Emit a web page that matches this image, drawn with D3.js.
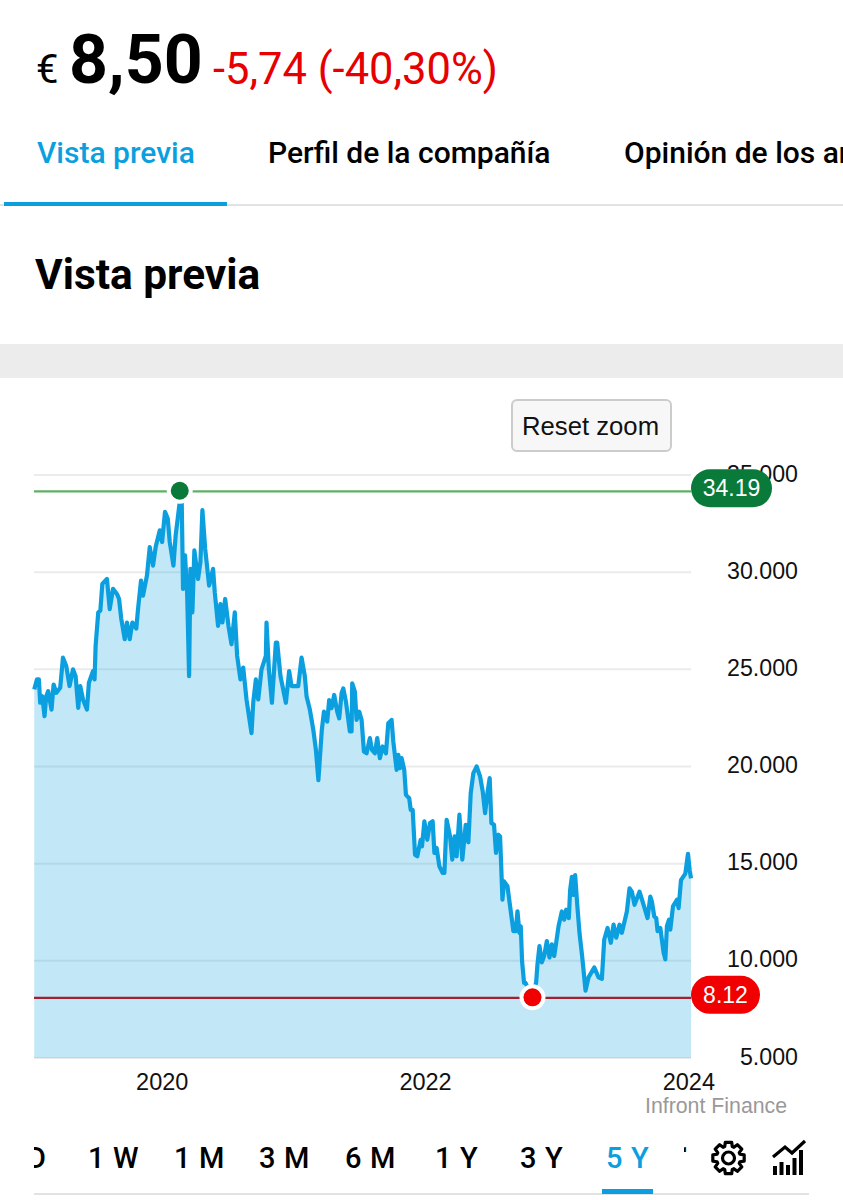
<!DOCTYPE html>
<html>
<head>
<meta charset="utf-8">
<style>
    body { margin: 0; background: #fff; }
    svg { display: block; }
    text { font-family: Roboto, sans-serif; }
    .chart-text text, text.chart-text { font-family: "Liberation Sans", Arial, sans-serif; }
</style>
<script src="https://cdnjs.cloudflare.com/ajax/libs/d3/7.8.5/d3.min.js"></script>
</head>
<body>
<svg id="page"></svg>
<script>
const width = 843;
const height = 1200;

const years = [
    2019.032, 2019.052, 2019.067, 2019.077, 2019.093, 2019.110, 2019.123, 2019.138, 2019.163, 2019.179,
    2019.199, 2019.229, 2019.250, 2019.275, 2019.300, 2019.326, 2019.346, 2019.366, 2019.381, 2019.402,
    2019.432, 2019.447, 2019.478, 2019.490, 2019.498, 2019.518, 2019.534, 2019.549, 2019.584, 2019.605,
    2019.630, 2019.660, 2019.676, 2019.693, 2019.719, 2019.736, 2019.757, 2019.777, 2019.807, 2019.820,
    2019.843, 2019.858, 2019.888, 2019.909, 2019.934, 2019.954, 2019.985, 2020.003, 2020.025, 2020.046,
    2020.061, 2020.089, 2020.106, 2020.137, 2020.145, 2020.152, 2020.162, 2020.177, 2020.193, 2020.208,
    2020.218, 2020.233, 2020.248, 2020.276, 2020.294, 2020.309, 2020.330, 2020.360, 2020.390, 2020.403,
    2020.428, 2020.446, 2020.461, 2020.482, 2020.507, 2020.530, 2020.555, 2020.573, 2020.598, 2020.619,
    2020.644, 2020.682, 2020.695, 2020.715, 2020.733, 2020.758, 2020.791, 2020.796, 2020.814, 2020.837,
    2020.867, 2020.877, 2020.902, 2020.943, 2020.968, 2020.986, 2021.037, 2021.062, 2021.087, 2021.100,
    2021.125, 2021.151, 2021.171, 2021.190, 2021.216, 2021.232, 2021.257, 2021.272, 2021.290, 2021.310,
    2021.333, 2021.348, 2021.366, 2021.379, 2021.399, 2021.429, 2021.442, 2021.447, 2021.467, 2021.480,
    2021.500, 2021.518, 2021.536, 2021.556, 2021.581, 2021.597, 2021.619, 2021.637, 2021.657, 2021.678,
    2021.703, 2021.721, 2021.746, 2021.759, 2021.784, 2021.797, 2021.809, 2021.822, 2021.842, 2021.855,
    2021.880, 2021.891, 2021.906, 2021.924, 2021.941, 2021.967, 2021.977, 2021.995, 2022.017, 2022.038,
    2022.058, 2022.071, 2022.088, 2022.109, 2022.134, 2022.147, 2022.164, 2022.190, 2022.207, 2022.225,
    2022.240, 2022.261, 2022.283, 2022.309, 2022.329, 2022.347, 2022.367, 2022.392, 2022.418, 2022.438,
    2022.456, 2022.474, 2022.491, 2022.504, 2022.524, 2022.539, 2022.557, 2022.570, 2022.588, 2022.600,
    2022.626, 2022.646, 2022.671, 2022.689, 2022.702, 2022.717, 2022.727, 2022.737, 2022.752, 2022.763,
    2022.780, 2022.800, 2022.816, 2022.844, 2022.854, 2022.869, 2022.887, 2022.905, 2022.925, 2022.945,
    2022.963, 2022.981, 2022.996, 2023.014, 2023.039, 2023.057, 2023.072, 2023.092, 2023.102, 2023.115,
    2023.128, 2023.140, 2023.158, 2023.173, 2023.193, 2023.219, 2023.242, 2023.285, 2023.318, 2023.343,
    2023.361, 2023.386, 2023.411, 2023.432, 2023.452, 2023.477, 2023.495, 2023.533, 2023.553, 2023.571,
    2023.591, 2023.629, 2023.660, 2023.690, 2023.711, 2023.723, 2023.741, 2023.756, 2023.766, 2023.787,
    2023.812, 2023.825, 2023.837, 2023.853, 2023.863, 2023.883, 2023.913, 2023.926, 2023.944, 2023.977,
    2023.997, 2024.010, 2024.020
];

const prices = [
    23.97, 24.48, 24.48, 23.28, 23.62, 22.59, 23.62, 23.88, 22.93, 24.22,
    23.79, 24.05, 25.60, 25.17, 24.14, 25.00, 24.65, 23.02, 24.14, 23.45,
    22.93, 24.31, 24.91, 24.48, 26.21, 27.93, 28.02, 29.40, 29.65, 28.10,
    29.14, 28.88, 28.62, 27.59, 26.55, 27.41, 26.55, 27.41, 27.10, 28.10,
    29.57, 28.79, 29.83, 31.29, 30.34, 31.29, 32.15, 31.55, 33.10, 32.76,
    31.55, 30.34, 31.90, 33.62, 34.19, 33.62, 29.14, 30.86, 28.96, 24.65,
    30.17, 27.93, 31.12, 29.65, 30.52, 33.19, 31.21, 29.31, 30.17, 28.96,
    27.24, 28.36, 27.41, 28.62, 27.24, 26.29, 27.93, 25.69, 24.48, 25.09,
    23.45, 21.72, 23.28, 24.48, 23.45, 25.00, 25.69, 27.41, 25.00, 23.28,
    26.38, 26.38, 24.65, 23.28, 24.91, 24.14, 24.14, 25.60, 24.65, 23.62,
    22.93, 21.90, 20.86, 19.30, 21.88, 22.82, 22.31, 23.42, 23.00, 23.68,
    22.82, 22.48, 23.77, 24.02, 23.34, 21.80, 21.80, 24.28, 23.85, 22.40,
    22.82, 22.40, 20.77, 20.68, 21.46, 20.86, 20.68, 21.46, 20.43, 21.03,
    20.68, 22.23, 22.40, 21.28, 19.83, 20.60, 19.91, 20.43, 19.83, 18.54,
    18.37, 17.77, 17.77, 15.46, 15.38, 16.23, 15.89, 17.18, 16.23, 17.09,
    17.18, 15.55, 15.81, 14.86, 14.52, 14.52, 17.26, 16.40, 15.21, 16.40,
    15.38, 17.52, 15.21, 17.00, 16.10, 18.63, 19.66, 20.00, 19.49, 18.72,
    17.60, 18.63, 19.40, 17.09, 17.00, 15.55, 16.49, 16.40, 13.15, 14.09,
    13.84, 12.81, 11.53, 11.53, 12.55, 11.44, 11.78, 9.98, 8.87, 8.87,
    8.60, 8.30, 8.12, 8.90, 9.83, 10.76, 9.92, 10.25, 11.02, 10.17,
    10.85, 10.25, 10.93, 11.78, 12.54, 12.12, 12.63, 12.20, 13.64, 14.32,
    13.39, 14.41, 12.71, 11.44, 10.25, 8.47, 9.15, 9.66, 9.15, 9.07,
    11.10, 11.69, 10.93, 11.86, 11.19, 11.86, 11.44, 12.54, 13.73, 13.56,
    12.88, 13.56, 12.88, 12.20, 13.31, 13.05, 12.29, 12.20, 11.53, 11.69,
    10.42, 10.08, 11.78, 12.12, 11.61, 12.80, 13.14, 12.71, 14.15, 14.49,
    15.51, 14.66, 14.24
];

const yTicks = [5, 10, 15, 20, 25, 30, 35];
const xTicks = [2020, 2022, 2024];

const high = {year: 2020.137, value: 34.19};
const low = {year: 2022.816, value: 8.12};

const rangeTabs = [
    {label: "1 W", x: 88}, {label: "1 M", x: 174}, {label: "3 M", x: 259}, {label: "6 M", x: 345},
    {label: "1 Y", x: 435}, {label: "3 Y", x: 520}, {label: "5 Y", x: 606}
];

const blue = "#0b9fe0";
const svg = d3.select("#page").attr("width", width).attr("height", height);

const addText = (str, x, y, size, weight, fill) => svg.append("text")
    .attr("x", x).attr("y", y)
    .attr("font-size", size).attr("font-weight", weight).attr("fill", fill)
    .text(str);

// Header
addText("€", 36, 83, 40, 400, "#000");
addText("8,50", 69, 83, 68, 700, "#000");
addText("-5,74 (-40,30%)", 213, 84, 43.5, 400, "#e60000");
addText("Vista previa", 37, 163, 30, 500, blue);
addText("Perfil de la compañía", 268, 163, 30, 500, "#000");
addText("Opinión de los analistas", 624, 163, 30, 500, "#000");
svg.append("rect").attr("x", 0).attr("y", 204).attr("width", width).attr("height", 2).attr("fill", "#e2e2e2");
svg.append("rect").attr("x", 4).attr("y", 202).attr("width", 223).attr("height", 4).attr("fill", blue);
addText("Vista previa", 35, 289, 42.4, 700, "#000");
svg.append("rect").attr("x", 0).attr("y", 344).attr("width", width).attr("height", 34).attr("fill", "#ececec");

// Chart
const x = d3.scaleLinear().domain([2019.03, 2024.02]).range([34, 691]);
const y = d3.scaleLinear().domain([5, 35]).range([1058, 475]);
const series = years.map((year, i) => ({year, price: prices[i]}));

svg.append("g").selectAll("line").data(yTicks).join("line")
    .attr("x1", x.range()[0]).attr("x2", x.range()[1])
    .attr("y1", d => y(d)).attr("y2", d => y(d))
    .attr("stroke", "#ebebeb").attr("stroke-width", 2);

const area = d3.area().x(d => x(d.year)).y0(y(5)).y1(d => y(d.price));
const line = d3.line().x(d => x(d.year)).y(d => y(d.price));

svg.append("path").datum(series)
    .attr("d", area)
    .attr("fill", blue).attr("fill-opacity", 0.25);
svg.append("path").datum(series)
    .attr("d", line)
    .attr("fill", "none").attr("stroke", blue).attr("stroke-width", 4.2)
    .attr("stroke-linejoin", "round");

// Axes
const yAxis = svg.append("g")
    .attr("class", "chart-text")
    .attr("transform", `translate(${x.range()[1]},0)`)
    .call(d3.axisRight(y).tickValues(yTicks).tickFormat(d3.format(".3f")).tickSize(0));
yAxis.select(".domain").remove();
yAxis.selectAll("text")
    .attr("x", 107).attr("dy", "0.26em")
    .attr("text-anchor", "end").attr("font-size", 23.2).attr("fill", "#111");

const xAxis = svg.append("g")
    .attr("class", "chart-text")
    .attr("transform", `translate(0,${y(5)})`)
    .call(d3.axisBottom(x).tickValues(xTicks).tickFormat(d3.format("d")).tickSize(0));
xAxis.select(".domain").remove();
xAxis.selectAll("text")
    .attr("y", 32).attr("dy", 0)
    .attr("font-size", 23.5).attr("fill", "#111");

// High and low markers
const marker = (m, lineColor, dotColor, pillX, pillW, pillDy) => {
    svg.append("line")
        .attr("x1", x.range()[0]).attr("x2", x.range()[1])
        .attr("y1", y(m.value) + 0.6).attr("y2", y(m.value) + 0.6)
        .attr("stroke", lineColor).attr("stroke-width", 2.2);
    svg.append("circle").attr("cx", x(m.year)).attr("cy", y(m.value))
        .attr("r", 13).attr("fill", "#fff");
    svg.append("circle").attr("cx", x(m.year)).attr("cy", y(m.value))
        .attr("r", 9).attr("fill", dotColor);
    const cy = y(m.value) + pillDy;
    svg.append("rect")
        .attr("x", pillX).attr("y", cy - 19).attr("width", pillW).attr("height", 38).attr("rx", 19)
        .attr("fill", dotColor);
    svg.append("text").attr("class", "chart-text")
        .attr("x", pillX + pillW / 2).attr("y", cy + 8)
        .attr("text-anchor", "middle").attr("font-size", 23).attr("fill", "#fff")
        .text(m.value);
};
marker(high, "#5fb063", "#0a7a3b", 691, 81, -2.5);
marker(low, "#a3202f", "#f00000", 691, 69, -2.5);

// Reset zoom button
svg.append("rect")
    .attr("x", 512).attr("y", 400).attr("width", 159).attr("height", 51).attr("rx", 5)
    .attr("fill", "#f7f7f7").attr("stroke", "#cccccc").attr("stroke-width", 2);
addText("Reset zoom", 522, 435, 25.7, 400, "#111").attr("class", "chart-text");
addText("Infront Finance", 645, 1113, 21.3, 400, "#999").attr("class", "chart-text");

// Range selector
svg.append("clipPath").attr("id", "clip-d").append("rect")
    .attr("x", 34).attr("y", 1130).attr("width", 20).attr("height", 50);
svg.append("clipPath").attr("id", "clip-10y").append("rect")
    .attr("x", 684).attr("y", 1130).attr("width", 5).attr("height", 22);

const tabText = (label, tx, fill) => addText(label, tx, 1168, 29, 500, fill).attr("letter-spacing", 0.7);
tabText("D", 27, "#000").attr("clip-path", "url(#clip-d)");
tabText("1", 675, "#000").attr("clip-path", "url(#clip-10y)");
rangeTabs.forEach(t => tabText(t.label, t.x, t.label === "5 Y" ? blue : "#000"));

svg.append("rect").attr("x", 34).attr("y", 1193).attr("width", 775).attr("height", 2).attr("fill", "#e2e2e2");
svg.append("rect").attr("x", 602).attr("y", 1189).attr("width", 51).attr("height", 5).attr("fill", blue);

// Gear icon
const gearCenter = [728.5, 1158];
const gearPoints = d3.range(0, 8).flatMap(i => {
    const a = i * Math.PI / 4;
    const w = 0.2;
    return [[a - w * 1.6, 12], [a - w, 16], [a + w, 16], [a + w * 1.6, 12]];
});
svg.append("path")
    .attr("transform", `translate(${gearCenter})`)
    .attr("d", d3.lineRadial().angle(d => d[0]).radius(d => d[1]).curve(d3.curveLinearClosed)(gearPoints))
    .attr("fill", "none").attr("stroke", "#000").attr("stroke-width", 3.2).attr("stroke-linejoin", "round");
svg.append("circle")
    .attr("cx", gearCenter[0]).attr("cy", gearCenter[1]).attr("r", 6)
    .attr("fill", "none").attr("stroke", "#000").attr("stroke-width", 3.2);

// Chart icon
const iconBars = [[773, 1166], [779.5, 1162], [786, 1165], [792.5, 1158], [799, 1150]];
svg.append("g").selectAll("rect").data(iconBars).join("rect")
    .attr("x", d => d[0]).attr("y", d => d[1])
    .attr("width", 4).attr("height", d => 1175 - d[1])
    .attr("fill", "#000");
svg.append("path")
    .attr("d", "M773 1157 L785 1147 L792 1153 L805 1141")
    .attr("fill", "none").attr("stroke", "#000").attr("stroke-width", 3.2);
</script>
</body>
</html>
